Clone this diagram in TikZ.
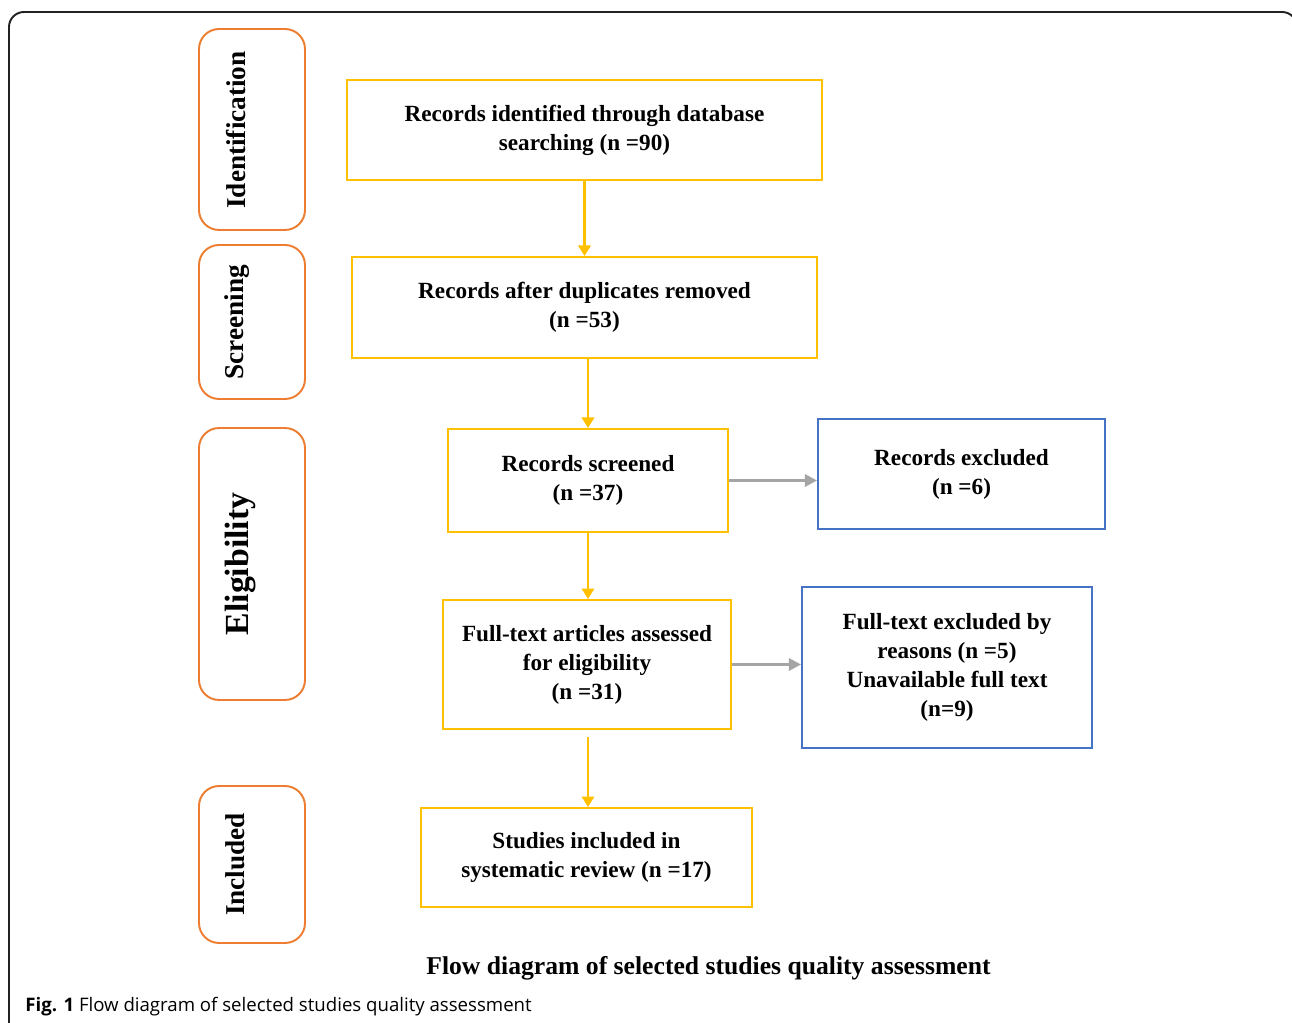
\documentclass[tikz,border=0pt]{standalone}
\usepackage{fontspec}
\setmainfont{Liberation Serif}
\newfontfamily\capfont{Open Sans}
\usetikzlibrary{arrows.meta,positioning,calc}
\definecolor{boxyellow}{HTML}{FFC000}
\definecolor{phaseorange}{HTML}{ED7D31}
\definecolor{exclblue}{HTML}{4472C4}
\definecolor{arrowgray}{HTML}{A5A5A5}
\definecolor{framegray}{HTML}{222222}

\begin{document}
\begin{tikzpicture}[x=0.02cm,y=-0.02cm,
    phase/.style={draw=phaseorange,line width=1.1pt,rounded corners=0.4cm,minimum width=2.12cm},
    phaselabel/.style={rotate=90,font=\fontsize{15.5}{18}\selectfont\bfseries},
    stage/.style={draw=boxyellow,line width=1.1pt,align=center,font=\fontsize{13.2}{16.5}\selectfont\bfseries},
    excl/.style={draw=exclblue,line width=1.1pt,align=center,font=\fontsize{13.2}{16.5}\selectfont\bfseries},
    flow/.style={boxyellow,line width=1.6pt,-{Triangle[length=6pt,width=7pt]}},
    side/.style={arrowgray,line width=1.6pt,-{Triangle[length=7pt,width=7pt]}}]
  \useasboundingbox (0,0) rectangle (1292,1023);
  \clip (0,0) rectangle (1292,1023);
  \draw[framegray,line width=1.1pt,rounded corners=0.3cm] (9,1060) -- (9,12) -- (1297,12) -- (1297,1060);

  \node[phase,minimum height=4.02cm] (ident) at (252,129.5) {};
  \node[phase,minimum height=3.08cm] (screen) at (252,322) {};
  \node[phase,minimum height=5.44cm] (elig) at (252,564) {};
  \node[phase,minimum height=3.14cm] (incl) at (252,864.5) {};
  \node[phaselabel] (identlab) at (236,130) {Identification};
  \node[phaselabel] (screenlab) at (237,322) {Screening};
  \node[phaselabel,font=\fontsize{19.2}{22}\selectfont\bfseries] (eliglab) at (241,564) {Eligibility};
  \node[phaselabel] (incllab) at (235,864.5) {Included};

  \node[stage,minimum width=9.5cm,minimum height=2cm] (found) at (584.5,130) {Records identified through database\\searching (n =90)};
  \node[stage,minimum width=9.3cm,minimum height=2.02cm] (dedup) at (584.5,307.5) {Records after duplicates removed\\(n =53)};
  \node[stage,minimum width=5.6cm,minimum height=2.06cm] (screened) at (588,480.5) {Records screened\\(n =37)};
  \node[excl,minimum width=5.74cm,minimum height=2.2cm] (recexcl) at (961.5,474) {Records excluded\\(n =6)};
  \node[stage,minimum width=5.76cm,minimum height=2.58cm] (fulltext) at (587,664.5) {Full-text articles assessed\\for eligibility\\(n =31)};
  \node[excl,minimum width=5.8cm,minimum height=3.22cm] (ftexcl) at (947,667.5) {Full-text excluded by\\reasons (n =5)\\Unavailable full text\\(n=9)};
  \node[stage,minimum width=6.62cm,minimum height=1.98cm] (included) at (586.5,857.5) {Studies included in\\systematic review (n =17)};

  \draw[flow] (found) -- (dedup);
  \draw[flow] (dedup.south -| screened.north) -- (screened.north);
  \draw[flow] (screened) -- (fulltext.north -| screened.south);
  \draw[flow,shorten <=4pt] (fulltext.south -| screened.south) -- (included.north -| screened.south);
  \draw[side] (screened.east) -- (screened.east -| recexcl.west);
  \draw[side] (fulltext.east) -- (fulltext.east -| ftexcl.west);

  \node[font=\fontsize{14.6}{17}\selectfont\bfseries] (title) at (708.5,968) {Flow diagram of selected studies quality assessment};
  \node[anchor=west,inner sep=0pt,font=\capfont\fontsize{10.6}{13}\selectfont] (caption) at (25,1007) {\textbf{Fig. 1} Flow diagram of selected studies quality assessment};
\end{tikzpicture}
\end{document}
